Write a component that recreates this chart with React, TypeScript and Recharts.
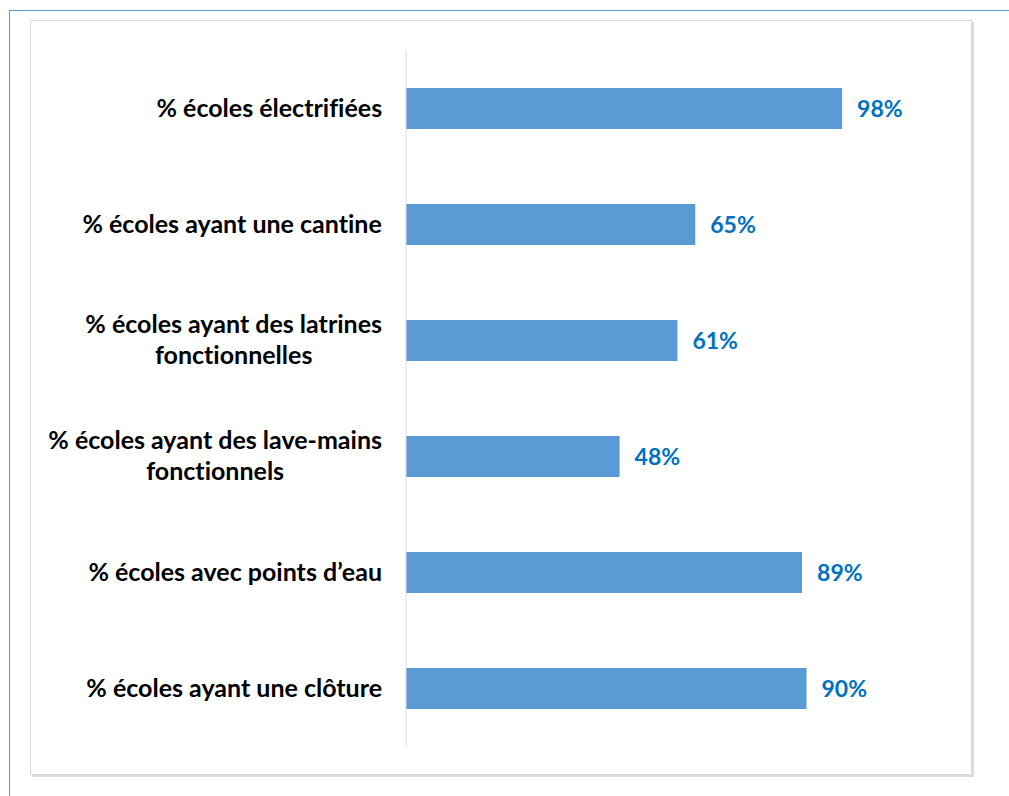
import React from 'react';
import { BarChart, Bar, XAxis, YAxis, LabelList } from 'recharts';

const categories = [
  '% écoles électrifiées',
  '% écoles ayant une cantine',
  '% écoles ayant des latrines fonctionnelles',
  '% écoles ayant des lave-mains fonctionnels',
  '% écoles avec points d’eau',
  '% écoles ayant une clôture',
];
const values = [0.98, 0.65, 0.61, 0.48, 0.89, 0.9];

const data = categories.map((name, i) => ({ name, value: values[i] }));

const LABEL_FONT = '700 25px Lato';
const WRAP_CHARS = 30;

function wrap(text: string, maxChars: number): string[] {
  const words = text.split(' ');
  const lines: string[] = [];
  let cur = '';
  for (const w of words) {
    const next = cur ? cur + ' ' + w : w;
    if (next.length > maxChars && cur) {
      lines.push(cur);
      cur = w;
    } else {
      cur = next;
    }
  }
  if (cur) lines.push(cur);
  return lines;
}

let ctx: CanvasRenderingContext2D | null = null;
function measure(t: string): number {
  if (!ctx) {
    const c = document.createElement('canvas');
    ctx = c.getContext('2d');
  }
  if (!ctx) return t.length * 12;
  ctx.font = LABEL_FONT;
  return ctx.measureText(t).width;
}

function CategoryTick(props: any) {
  const { x, y, payload } = props;
  const lines = wrap(String(payload.value), WRAP_CHARS);
  const maxW = Math.max(...lines.map(measure));
  const cx = x - maxW / 2;
  const lh = 31;
  const startY = y - ((lines.length - 1) * lh) / 2;
  return (
    <g>
      {lines.map((l, i) => (
        <text
          key={i}
          x={cx}
          y={startY + i * lh}
          dy="0.35em"
          textAnchor="middle"
          fill="#000"
          style={{ font: LABEL_FONT, fontVariantLigatures: 'none' }}
        >
          {l}
        </text>
      ))}
    </g>
  );
}

export default function App() {
  return (
    <div
      style={{
        position: 'absolute',
        left: 0,
        top: 0,
        width: 1009,
        height: 796,
        background: '#fff',
        overflow: 'hidden',
      }}
    >
      <div
        style={{
          position: 'absolute',
          left: 9,
          top: 10,
          width: 1000,
          height: 786,
          borderTop: '1px solid #5B9BD5',
          borderLeft: '1px solid #5B9BD5',
        }}
      />
      <div
        style={{
          position: 'absolute',
          left: 30,
          top: 20,
          width: 940,
          height: 753,
          border: '1px solid #d9d9d9',
          boxShadow: '2px 2px 0 #dcdcdc',
        }}
      />
      <div style={{ position: 'absolute', left: 0, top: 0 }}>
        <BarChart
          width={1009}
          height={796}
          data={data}
          layout="vertical"
          margin={{ top: 50, right: 158, bottom: 50, left: 30 }}
          barSize={41}
        >
          <XAxis type="number" domain={[0, 1]} hide />
          <YAxis
            type="category"
            dataKey="name"
            width={376}
            axisLine={{ stroke: '#d9d9d9', strokeWidth: 1 }}
            tickLine={false}
            tickSize={0}
            tickMargin={24}
            tick={<CategoryTick />}
            interval={0}
          />
          <Bar dataKey="value" fill="#5B9BD5" isAnimationActive={false}>
            <LabelList
              dataKey="value"
              position="right"
              offset={15}
              formatter={(v: any) => `${Math.round(Number(v) * 100)}%`}
              style={{ font: '700 23px Lato', fill: '#0070C0' }}
            />
          </Bar>
        </BarChart>
      </div>
    </div>
  );
}
